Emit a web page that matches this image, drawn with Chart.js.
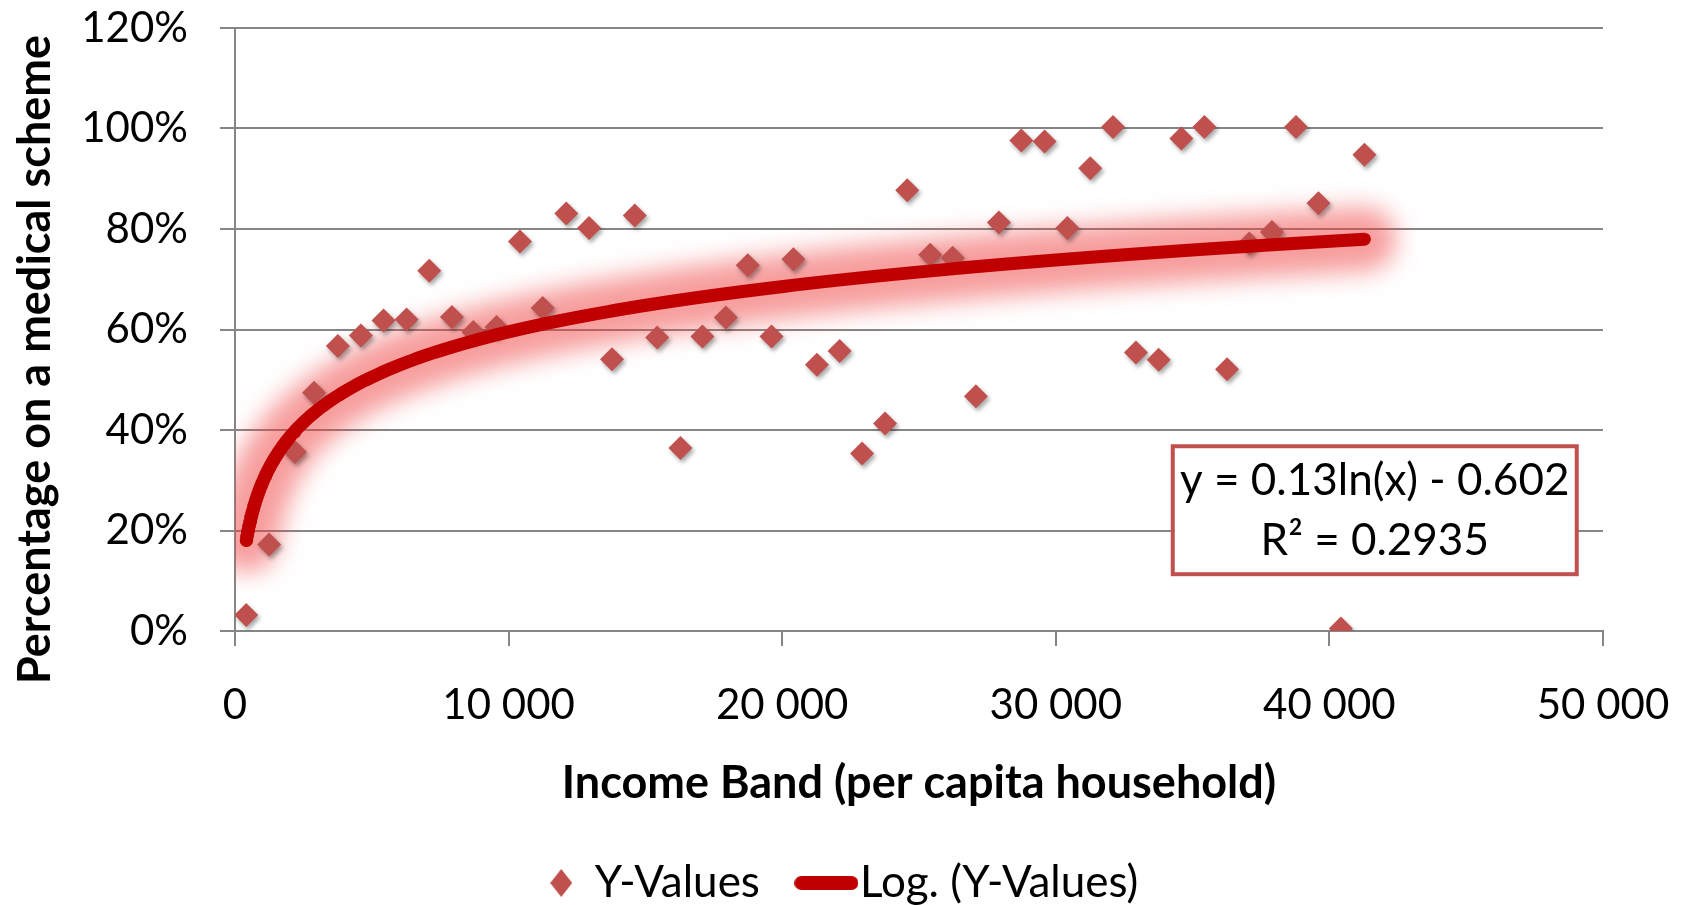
<!DOCTYPE html>
<html>
<head>
<meta charset="utf-8">
<script src="https://cdn.jsdelivr.net/npm/chart.js@4.4.1/dist/chart.umd.min.js"></script>
<style>
  html, body { margin: 0; padding: 0; background: #ffffff; }
  #wrap { width: 1682px; height: 905px; position: relative; }
</style>
</head>
<body>
<div id="wrap"><canvas id="chart"></canvas></div>
<script>
// Per capita household income band (x) and share on a medical scheme (y)
const incomeBand = [
  410, 1244, 2190, 2890, 3760, 4600, 5430, 6270, 7100, 7930,
  8710, 9560, 10415, 11245, 12110, 12940, 13780, 14610, 15430, 16280,
  17085, 17940, 18740, 19610, 20410, 21270, 22100, 22920, 23760, 24570,
  25410, 26230, 27080, 27920, 28740, 29590, 30420, 31260, 32090, 32930,
  33760, 34590, 35430, 36260, 37070, 37900, 38780, 39600, 40420, 41280
];
const medicalShare = [
  0.032, 0.172, 0.356, 0.474, 0.567, 0.588, 0.618, 0.620, 0.717, 0.625,
  0.595, 0.605, 0.775, 0.643, 0.831, 0.802, 0.541, 0.827, 0.584, 0.364,
  0.586, 0.624, 0.728, 0.586, 0.740, 0.530, 0.557, 0.353, 0.413, 0.877,
  0.749, 0.743, 0.467, 0.813, 0.976, 0.974, 0.802, 0.921, 1.003, 0.554,
  0.540, 0.980, 1.003, 0.521, 0.771, 0.794, 1.003, 0.851, 0.005, 0.948
];

// Axis ticks
const xTickValues = [0, 10000, 20000, 30000, 40000, 50000];
const yTickValues = [0, 0.2, 0.4, 0.6, 0.8, 1.0, 1.2];

// Logarithmic trendline y = a ln(x) + b, as printed in the equation box
const trendA = 0.13;
const trendB = -0.602;
const trendR2 = 0.2935;

const seriesLabel = 'Y-Values';
const trendLabel = 'Log. (Y-Values)';
const xTitle = 'Income Band (per capita household)';
const yTitle = 'Percentage on a medical scheme';

const FONT = 'Lato, "Open Sans", sans-serif';
const GRID = '#868686';
const MARKER = '#c0504d';
const TREND = '#c00000';

const points = incomeBand.map((x, i) => ({ x: x, y: medicalShare[i] }));

// Trendline sampled across the data range (denser at low incomes where it bends)
const xLo = Math.min(...incomeBand), xHi = Math.max(...incomeBand);
const trendPoints = [];
for (let i = 0; i <= 300; i++) {
  const x = xLo * Math.pow(xHi / xLo, i / 300);
  trendPoints.push({ x: x, y: trendA * Math.log(x) + trendB });
}

function fmtThousands(v) {
  return String(v).replace(/\B(?=(\d{3})+(?!\d))/g, ' ');
}

// Legend icons
function diamondIcon() {
  const c = document.createElement('canvas');
  c.width = 22; c.height = 28;
  const g = c.getContext('2d');
  g.fillStyle = MARKER;
  g.beginPath();
  g.moveTo(11, 0); g.lineTo(22, 14); g.lineTo(11, 28); g.lineTo(0, 14);
  g.closePath(); g.fill();
  return c;
}
function barIcon() {
  const c = document.createElement('canvas');
  c.width = 64; c.height = 16;
  const g = c.getContext('2d');
  g.fillStyle = TREND;
  g.beginPath();
  g.roundRect(0, 1, 64, 14, 7);
  g.fill();
  return c;
}
const legendIcons = [diamondIcon(), barIcon()];

// Layout constants for the plot frame
const PLOT_LEFT = 235;     // y-axis position
const PLOT_TOP = 28;       // 120% gridline
const RIGHT_GAP = 79;      // space right of the 50 000 tick
const X_AXIS_HEIGHT = 175; // ticks + labels + title
const Y_TITLE_SHIFT = 30;  // y title sits a little below the axis middle

// Blur / shadow effects per dataset, and y-title offset
const effectsPlugin = {
  id: 'effects',
  afterUpdate(chart) {
    const ys = chart.scales.y;
    if (ys && !ys._titleShifted) {
      const orig = ys.drawTitle;
      ys.drawTitle = function () {
        this.ctx.save();
        this.ctx.translate(0, Y_TITLE_SHIFT);
        orig.apply(this, arguments);
        this.ctx.restore();
      };
      ys._titleShifted = true;
    }
  },
  beforeDatasetDraw(chart, args) {
    const ds = chart.data.datasets[args.index];
    const ctx = chart.ctx;
    if (ds.glowBlur || ds.dropShadow) {
      ctx.save();
      if (ds.glowBlur) ctx.filter = 'blur(' + ds.glowBlur + 'px)';
      if (ds.dropShadow) {
        ctx.shadowColor = 'rgba(0,0,0,0.35)';
        ctx.shadowBlur = 4;
        ctx.shadowOffsetX = 2;
        ctx.shadowOffsetY = 3;
      }
    }
  },
  afterDatasetDraw(chart, args) {
    const ds = chart.data.datasets[args.index];
    if (ds.glowBlur || ds.dropShadow) chart.ctx.restore();
  }
};

// Equation / R² box
const equationPlugin = {
  id: 'equation',
  afterDatasetsDraw(chart) {
    const a = chart.chartArea, ctx = chart.ctx;
    const w = a.right - a.left, h = a.bottom - a.top;
    const bx = a.left + w * 0.6855, by = a.top + h * 0.6936;
    const bw = w * 0.2953, bh = h * 0.2122;
    ctx.save();
    ctx.fillStyle = '#ffffff';
    ctx.fillRect(bx, by, bw, bh);
    ctx.strokeStyle = MARKER;
    ctx.lineWidth = 4;
    ctx.strokeRect(bx, by, bw, bh);
    ctx.fillStyle = '#000000';
    ctx.font = '44px ' + FONT;
    ctx.textAlign = 'center';
    ctx.textBaseline = 'alphabetic';
    const cx = bx + bw / 2;
    ctx.fillText('y = ' + trendA + 'ln(x) - ' + Math.abs(trendB), cx, by + 49);
    ctx.fillText('R\u00B2 = ' + trendR2, cx, by + 109);
    ctx.restore();
  }
};

new Chart(document.getElementById('chart'), {
  type: 'scatter',
  data: {
    datasets: [
      {
        label: seriesLabel,
        data: points,
        pointStyle: 'rectRot',
        pointRadius: 12,
        pointHoverRadius: 12,
        backgroundColor: MARKER,
        borderColor: MARKER,
        borderWidth: 0,
        dropShadow: true,
        order: 2
      },
      {
        label: trendLabel,
        data: trendPoints,
        showLine: true,
        pointRadius: 0,
        borderColor: TREND,
        backgroundColor: TREND,
        borderWidth: 13,
        borderCapStyle: 'round',
        borderJoinStyle: 'round',
        order: 1
      },
      {
        label: 'glow',
        data: trendPoints,
        showLine: true,
        pointRadius: 0,
        borderColor: 'rgba(240,60,60,0.5)',
        borderWidth: 64,
        borderCapStyle: 'round',
        borderJoinStyle: 'round',
        glowBlur: 12,
        clip: 0,
        order: 3
      }
    ]
  },
  options: {
    responsive: true,
    maintainAspectRatio: false,
    animation: false,
    events: [],
    layout: { padding: { left: 6, right: 0, top: 0, bottom: -10 } },
    plugins: {
      tooltip: { enabled: false },
      legend: {
        position: 'bottom',
        labels: {
          font: { family: FONT, size: 44 },
          color: '#000000',
          usePointStyle: true,
          boxWidth: 23,
          boxHeight: 23,
          padding: 55,
          generateLabels(chart) {
            return chart.data.datasets.slice(0, 2).map((ds, i) => ({
              text: ds.label,
              pointStyle: legendIcons[i],
              fillStyle: i === 0 ? MARKER : TREND,
              strokeStyle: 'rgba(0,0,0,0)',
              lineWidth: 0,
              hidden: false,
              datasetIndex: i,
              fontColor: '#000000'
            }));
          }
        }
      }
    },
    scales: {
      x: {
        type: 'linear',
        min: 0,
        max: 50000,
        afterBuildTicks(scale) { scale.ticks = xTickValues.map(v => ({ value: v })); },
        afterFit(scale) {
          scale.height = X_AXIS_HEIGHT;
          scale.paddingRight = RIGHT_GAP;
        },
        ticks: {
          font: { family: FONT, size: 42 },
          color: '#000000',
          padding: 34,
          maxRotation: 0,
          callback: v => fmtThousands(v)
        },
        grid: { drawOnChartArea: false, drawTicks: true, tickLength: 15, color: GRID, lineWidth: 2 },
        border: { display: true, color: GRID, width: 2 },
        title: {
          display: true,
          text: xTitle,
          font: { family: FONT, size: 45, weight: 'bold', lineHeight: 1.0 },
          color: '#000000',
          padding: { top: 0, bottom: 0 }
        }
      },
      y: {
        type: 'linear',
        min: 0,
        max: 1.2,
        afterBuildTicks(scale) { scale.ticks = yTickValues.map(v => ({ value: v })); },
        afterFit(scale) {
          scale.width = PLOT_LEFT - 6;
          scale.paddingTop = PLOT_TOP;
          scale.paddingBottom = 0;
        },
        ticks: {
          font: { family: FONT, size: 42 },
          color: '#000000',
          padding: 32,
          callback: v => Math.round(v * 100) + '%'
        },
        grid: { drawOnChartArea: true, drawTicks: true, tickLength: 15, color: GRID, lineWidth: 2 },
        border: { display: true, color: GRID, width: 2 },
        title: {
          display: true,
          text: yTitle,
          font: { family: FONT, size: 45, weight: 'bold', lineHeight: 1.1 },
          color: '#000000',
          padding: { top: 5, bottom: 0 }
        }
      }
    }
  },
  plugins: [effectsPlugin, equationPlugin]
});
</script>
</body>
</html>
